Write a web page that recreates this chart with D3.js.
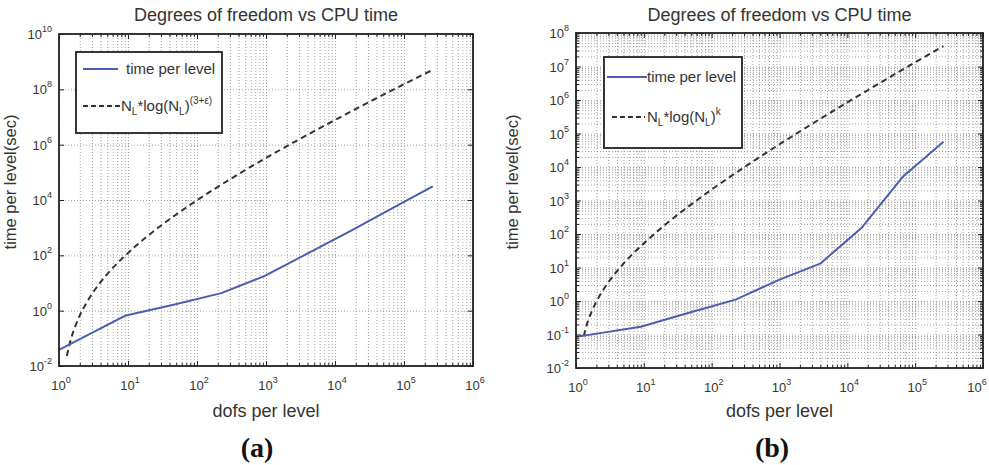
<!DOCTYPE html>
<html>
<head>
<meta charset="utf-8">
<script src="https://cdn.jsdelivr.net/npm/d3@7"></script>
<style>
  body { margin: 0; background: #fff; }
  text { font-family: "Liberation Sans", Arial, sans-serif; fill: #333; }
</style>
</head>
<body>
<svg id="fig" width="989" height="465"></svg>
<script>
// dofs per level (both panels share the same x values)
var dofs = [1, 9, 49, 225, 961, 3969, 16129, 65025, 261121];

// panel (a): measured time per level
var timeA = [0.038, 0.65, 1.7, 4.3, 18, 115, 720, 4800, 31000];
// panel (b): measured time per level
var timeB = [0.085, 0.17, 0.46, 1.1, 4.2, 13, 150, 5000, 57000];

// reference curves
var refX = [1.3, 1.4, 1.5, 1.7, 2, 2.5, 3, 4, 5, 7, 9, 14, 20, 50, 100, 300, 1000, 3000, 10000, 30000, 100000, 261121];
var refA = [0.023, 0.053, 0.1, 0.25, 0.67, 1.9, 4, 10.7, 21, 52, 95, 257, 540, 3000, 9800, 55700, 330000, 1.54e6, 7.8e6, 3.3e7, 1.53e8, 5.06e8];
var refB = [0.089, 0.16, 0.25, 0.48, 0.96, 2.1, 3.6, 7.7, 13, 26.5, 43, 97, 180, 765, 2120, 9760, 47700, 192000, 848000, 3.19e6, 1.33e7, 4.06e7];

var xTicks = [1, 1e1, 1e2, 1e3, 1e4, 1e5, 1e6];
var yTicksA = [1e-2, 1e0, 1e2, 1e4, 1e6, 1e8, 1e10];
var yTicksB = [1e-2, 1e-1, 1e0, 1e1, 1e2, 1e3, 1e4, 1e5, 1e6, 1e7, 1e8];

var title = "Degrees of freedom vs CPU time";
var xLabel = "dofs per level";
var yLabel = "time per level(sec)";

var svg = d3.select("#fig");

function minorTicks(lo, hi) {
    var out = [];
    for (var e = lo; e < hi; e++) {
        for (var m = 2; m <= 9; m++) out.push(m * Math.pow(10, e));
    }
    return out;
}

function expOf(v) { return Math.round(Math.log10(v)); }

function styleGrid(sel) {
    sel.select(".domain").remove();
    sel.selectAll("line")
        .attr("stroke", "#8a8a8a")
        .attr("stroke-width", 0.8)
        .attr("stroke-dasharray", "1,2");
}

function styleTicks(sel) {
    sel.select(".domain").remove();
    sel.selectAll("line").attr("stroke", "#222").attr("stroke-width", 1);
}

function drawPanel(p) {
    var w = p.right - p.left, h = p.bottom - p.top;
    var x = d3.scaleLog().domain([1, 1e6]).range([p.left, p.right]);
    var y = d3.scaleLog().domain(p.yDomain).range([p.bottom, p.top]);
    var g = svg.append("g");

    var xMinor = minorTicks(0, 6);

    // grid
    g.append("g")
        .attr("transform", "translate(0," + p.bottom + ")")
        .call(d3.axisBottom(x).tickValues(xTicks.concat(xMinor)).tickSize(-h).tickFormat(""))
        .call(styleGrid);
    g.append("g")
        .attr("transform", "translate(" + p.left + ",0)")
        .call(d3.axisLeft(y).tickValues(p.yTicks.concat(p.yMinor)).tickSize(-w).tickFormat(""))
        .call(styleGrid);

    // lines
    var line = d3.line()
        .x(function(d) { return x(d[0]); })
        .y(function(d) { return y(d[1]); });

    g.append("path")
        .datum(refX.map(function(v, i) { return [v, p.ref[i]]; }))
        .attr("fill", "none")
        .attr("stroke", "#333")
        .attr("stroke-width", 2)
        .attr("stroke-dasharray", "6,4")
        .attr("d", line.curve(d3.curveMonotoneX));

    g.append("path")
        .datum(dofs.map(function(v, i) { return [v, p.time[i]]; }))
        .attr("fill", "none")
        .attr("stroke", "#4a5db3")
        .attr("stroke-width", 2)
        .attr("stroke-linejoin", "round")
        .attr("d", line.curve(d3.curveLinear));

    // inward ticks on all four sides
    var sides = [
        [d3.axisBottom(x), "translate(0," + p.bottom + ")", xTicks, xMinor],
        [d3.axisTop(x), "translate(0," + p.top + ")", xTicks, xMinor],
        [d3.axisLeft(y), "translate(" + p.left + ",0)", p.yTicks, p.yMinorTicks],
        [d3.axisRight(y), "translate(" + p.right + ",0)", p.yTicks, p.yMinorTicks]
    ];
    sides.forEach(function(s) {
        g.append("g").attr("transform", s[1])
            .call(s[0].tickValues(s[2]).tickSize(-5).tickFormat(""))
            .call(styleTicks);
        g.append("g").attr("transform", s[1])
            .call(s[0].tickValues(s[3]).tickSize(-3).tickFormat(""))
            .call(styleTicks);
    });

    g.append("rect")
        .attr("x", p.left).attr("y", p.top)
        .attr("width", w).attr("height", h)
        .attr("fill", "none")
        .attr("stroke", "#222")
        .attr("stroke-width", 1.8);

    // tick labels
    var xl = g.selectAll(".xl").data(xTicks).enter().append("text")
        .attr("x", function(d) { return Math.min(x(d) + 2, 977); })
        .attr("y", p.bottom + 24)
        .attr("text-anchor", "middle")
        .style("font-size", "13px");
    xl.append("tspan").text("10");
    xl.append("tspan").attr("dy", -7).style("font-size", "9px").text(function(d) { return expOf(d); });

    var yl = g.selectAll(".yl").data(p.yTicks).enter().append("text")
        .attr("x", p.left - 7)
        .attr("y", function(d) { return y(d) + 5; })
        .attr("text-anchor", "end")
        .style("font-size", "13px");
    yl.append("tspan").text("10");
    yl.append("tspan").attr("dy", -7).style("font-size", "9px").text(function(d) { return expOf(d); });

    // titles
    g.append("text")
        .attr("x", (p.left + p.right) / 2)
        .attr("y", 21)
        .attr("text-anchor", "middle")
        .style("font-size", "18px")
        .text(title);
    g.append("text")
        .attr("x", (p.left + p.right) / 2)
        .attr("y", 417)
        .attr("text-anchor", "middle")
        .style("font-size", "18px")
        .text(xLabel);
    g.append("text")
        .attr("transform", "translate(" + p.yLabelX + ",182) rotate(-90)")
        .attr("text-anchor", "middle")
        .style("font-size", "16.5px")
        .text(yLabel);
    g.append("text")
        .attr("x", p.tagX)
        .attr("y", 457)
        .attr("text-anchor", "middle")
        .style("font-family", "'Liberation Serif', 'Times New Roman', serif")
        .style("font-weight", "bold")
        .style("font-size", "28px")
        .style("fill", "#111")
        .text(p.tag);

    // legend
    var L = p.legend;
    g.append("rect")
        .attr("x", L.x).attr("y", L.y)
        .attr("width", L.w).attr("height", L.h)
        .attr("fill", "#fff")
        .attr("stroke", "#222")
        .attr("stroke-width", 1.8);
    g.append("line")
        .attr("x1", L.l1[0]).attr("x2", L.l1[1])
        .attr("y1", L.r1).attr("y2", L.r1)
        .attr("stroke", "#4a5db3").attr("stroke-width", 2);
    g.append("text")
        .attr("x", L.t1).attr("y", L.r1 + 5)
        .style("font-size", "15px")
        .text("time per level");
    g.append("line")
        .attr("x1", L.l2[0]).attr("x2", L.l2[1])
        .attr("y1", L.r2).attr("y2", L.r2)
        .attr("stroke", "#333").attr("stroke-width", 1.8)
        .attr("stroke-dasharray", "5,3");
    var t2 = g.append("text")
        .attr("x", L.t2).attr("y", L.r2 + 5)
        .style("font-size", "15px");
    t2.append("tspan").text("N");
    t2.append("tspan").attr("dy", 4).style("font-size", "10px").text("L");
    t2.append("tspan").attr("dy", -4).text("*log(N");
    t2.append("tspan").attr("dy", 4).style("font-size", "10px").text("L");
    t2.append("tspan").attr("dy", -4).text(")");
    t2.append("tspan").attr("dy", -7).style("font-size", "10px").text(L.exp);
}

drawPanel({
    left: 59, right: 473, top: 34, bottom: 366,
    yDomain: [1e-2, 1e10],
    yTicks: yTicksA, yMinor: [], yMinorTicks: [],
    time: timeA, ref: refA,
    yLabelX: 16, tag: "(a)", tagX: 257,
    legend: { x: 76, y: 52, w: 146, h: 81, r1: 69, r2: 106,
              l1: [83, 118], t1: 126, l2: [83, 120], t2: 121, exp: "(3+\u03b5)" }
});

drawPanel({
    left: 576, right: 983, top: 33, bottom: 368,
    yDomain: [1e-2, 1e8],
    yTicks: yTicksB, yMinor: minorTicks(-2, 8), yMinorTicks: minorTicks(-2, 8),
    time: timeB, ref: refB,
    yLabelX: 518, tag: "(b)", tagX: 772,
    legend: { x: 604, y: 57, w: 138, h: 91, r1: 77, r2: 117,
              l1: [607, 647], t1: 647, l2: [612, 645], t2: 647, exp: "k" }
});
</script>
</body>
</html>
